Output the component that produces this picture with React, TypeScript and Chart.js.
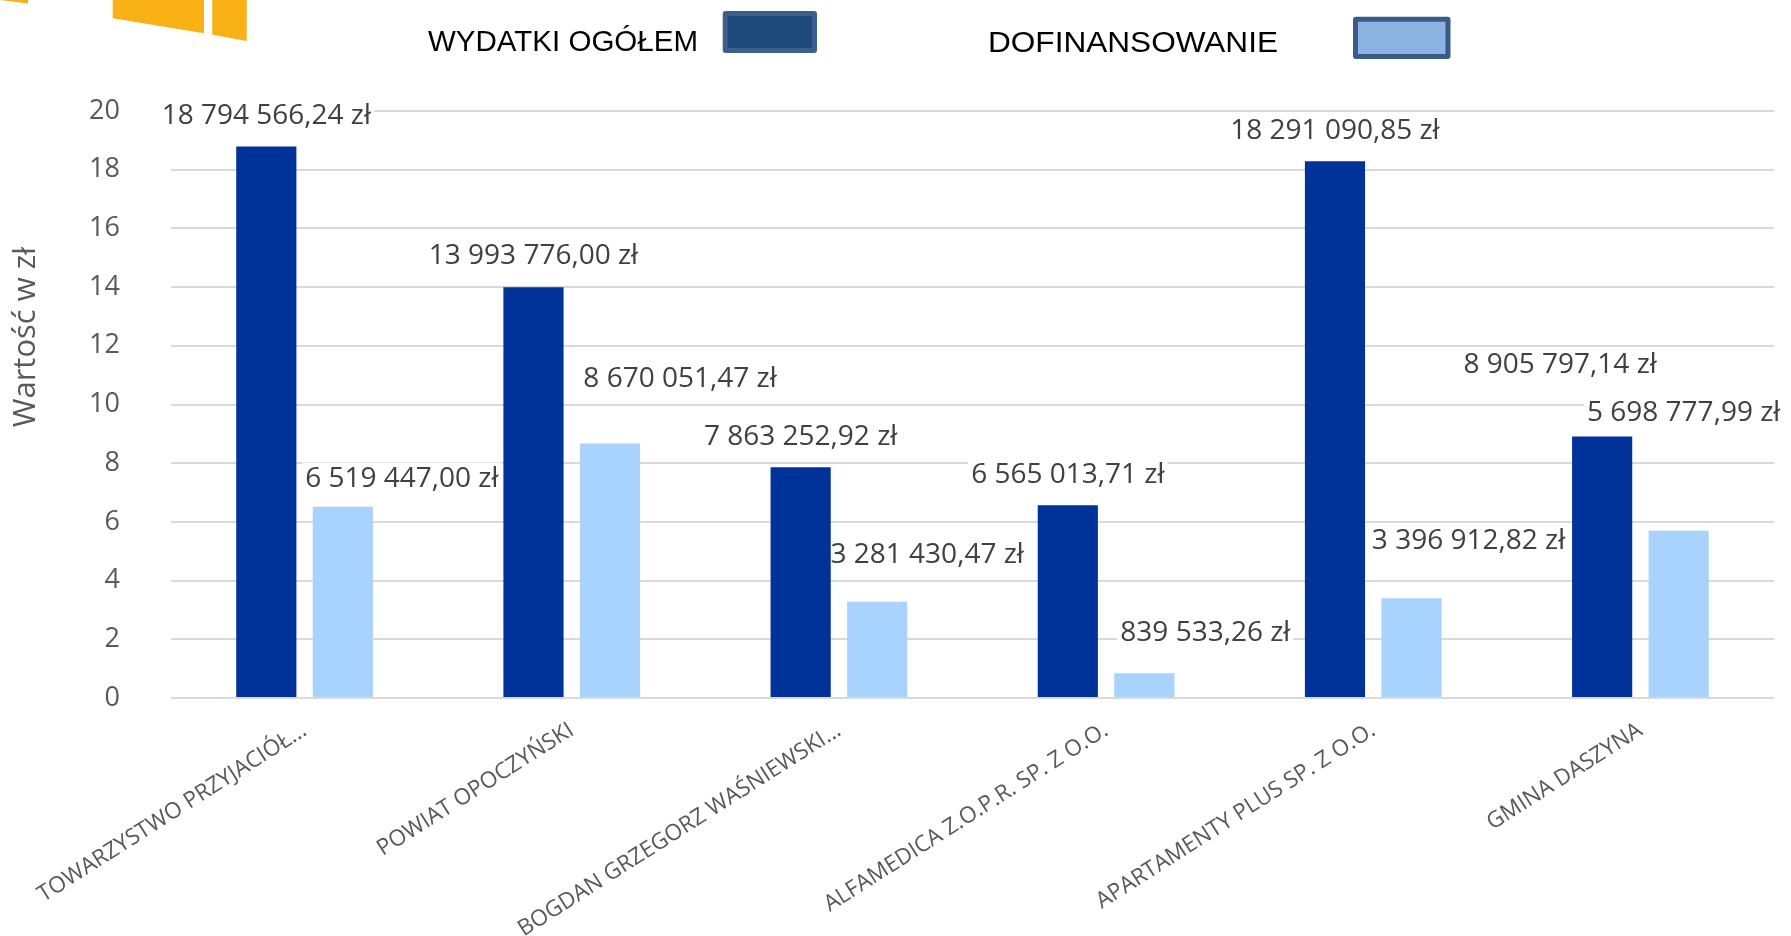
import React, { useEffect, useRef } from "react";
import { Chart, registerables } from "chart.js";

Chart.register(...registerables);

// ---------- data ----------
const categories = [
  "TOWARZYSTWO PRZYJACIÓŁ...",
  "POWIAT OPOCZYŃSKI",
  "BOGDAN GRZEGORZ WAŚNIEWSKI...",
  "ALFAMEDICA Z.O.P.R. SP. Z O.O.",
  "APARTAMENTY PLUS SP. Z O.O.",
  "GMINA DASZYNA",
];
const wydatkiOgolem = [18794566.24, 13993776.0, 7863252.92, 6565013.71, 18291090.85, 8905797.14];
const dofinansowanie = [6519447.0, 8670051.47, 3281430.47, 839533.26, 3396912.82, 5698777.99];
const yTickValues = [0, 2, 4, 6, 8, 10, 12, 14, 16, 18, 20];
const seriesNames = ["WYDATKI OGÓŁEM", "DOFINANSOWANIE"];
const axisTitle = "Wartość w zł";

// ---------- label nudges (px, relative to top centre of each bar) ----------
const nudgeWydatki = [[0, -31], [0, -32], [0, -31], [0, -31], [0, -31], [-42, -73]];
const nudgeDofin = [[59, -29], [70, -66], [50, -48], [61, -41], [57, -58], [5, -119]];

// ---------- styles ----------
const W = 1791;
const H = 936;
const DARK = "#003399";
const LIGHT = "#A9D3FF";
const GREY = "#595959";
const FONT = "'Open Sans', sans-serif";
const LABEL_FONT = `28px ${FONT}`;

function formatPLN(v: number): string {
  const [ip, dec] = v.toFixed(2).split(".");
  const grouped = ip.replace(/\B(?=(\d{3})+(?!\d))/g, " ");
  return `${grouped},${dec} zł`;
}

const logoPlugin = {
  id: "logoShapes",
  beforeDraw(chart: any) {
    const ctx = chart.ctx;
    ctx.save();
    ctx.fillStyle = "#F9B116";
    const polys = [
      [[0, 0], [28, 0], [28, 3.5]],
      [[112.7, 0], [204, 0], [204, 33.3], [112.7, 18.3]],
      [[212.3, 0], [246.7, 0], [246.7, 41], [212.3, 34.7]],
    ];
    for (const p of polys) {
      ctx.beginPath();
      p.forEach(([x, y], i) => (i ? ctx.lineTo(x, y) : ctx.moveTo(x, y)));
      ctx.closePath();
      ctx.fill();
    }
    ctx.restore();
  },
};

const legendPlugin = {
  id: "customLegend",
  afterDraw(chart: any) {
    const ctx = chart.ctx;
    const items = [
      { text: chart.data.datasets[0].label, x: 428, base: 50.7, w: 270, box: [722.7, 11, 94.3, 42], fill: "#1F4A7C", stroke: "#3D5F8E" },
      { text: chart.data.datasets[1].label, x: 988, base: 52.3, w: 290, box: [1353, 16.7, 97.5, 42.3], fill: "#8DB3E2", stroke: "#3A5A88" },
    ];
    ctx.save();
    for (const it of items) {
      ctx.font = "29px 'Liberation Sans', Arial, sans-serif";
      ctx.fillStyle = "#000";
      ctx.textBaseline = "alphabetic";
      ctx.textAlign = "left";
      const m = ctx.measureText(it.text).width;
      ctx.save();
      ctx.translate(it.x, it.base);
      ctx.scale(it.w / m, 1);
      ctx.fillText(it.text, 0, 0);
      ctx.restore();
      const [bx, by, bw, bh] = it.box;
      ctx.fillStyle = it.stroke;
      ctx.beginPath();
      (ctx as any).roundRect(bx, by, bw, bh, 3);
      ctx.fill();
      ctx.fillStyle = it.fill;
      ctx.fillRect(bx + 5, by + 5, bw - 10, bh - 10);
    }
    ctx.restore();
  },
};

function eachLabel(chart: any, cb: (txt: string, x: number, y: number) => void) {
  const raw = [wydatkiOgolem, dofinansowanie];
  const nudges = [nudgeWydatki, nudgeDofin];
  chart.data.datasets.forEach((_: any, di: number) => {
    const meta = chart.getDatasetMeta(di);
    meta.data.forEach((bar: any, i: number) => {
      const [dx, dy] = nudges[di][i];
      cb(formatPLN(raw[di][i]), bar.x + dx, bar.y + dy);
    });
  });
}

const valueLabelPlugin = {
  id: "valueLabels",
  beforeDatasetsDraw(chart: any) {
    // white boxes behind the labels hide the gridlines (drawn under the bars)
    const ctx = chart.ctx;
    ctx.save();
    ctx.font = LABEL_FONT;
    ctx.fillStyle = "#ffffff";
    eachLabel(chart, (txt, x, y) => {
      const tw = ctx.measureText(txt).width;
      ctx.fillRect(x - tw / 2 - 3, y - 15, tw + 6, 30);
    });
    ctx.restore();
  },
  afterDatasetsDraw(chart: any) {
    const ctx = chart.ctx;
    ctx.save();
    ctx.font = LABEL_FONT;
    ctx.textAlign = "center";
    ctx.textBaseline = "middle";
    ctx.fillStyle = "#404040";
    eachLabel(chart, (txt, x, y) => {
      ctx.fillText(txt, x, y + 1);
    });
    ctx.restore();
  },
};

const yTitlePlugin = {
  id: "yTitle",
  afterDraw(chart: any) {
    const ctx = chart.ctx;
    ctx.save();
    ctx.translate(26, 337);
    ctx.rotate(-Math.PI / 2);
    ctx.font = `31px ${FONT}`;
    ctx.fillStyle = GREY;
    ctx.textAlign = "center";
    ctx.textBaseline = "middle";
    ctx.fillText(axisTitle, 0, 0);
    ctx.restore();
  },
};

export default function App() {
  const ref = useRef<HTMLCanvasElement | null>(null);

  useEffect(() => {
    if (!ref.current) return;
    const chart = new Chart(ref.current, {
      type: "bar",
      data: {
        labels: categories,
        datasets: [
          {
            label: seriesNames[0],
            data: wydatkiOgolem.map((v) => v / 1e6),
            backgroundColor: DARK,
            categoryPercentage: 0.573,
            barPercentage: 0.786,
          },
          {
            label: seriesNames[1],
            data: dofinansowanie.map((v) => v / 1e6),
            backgroundColor: LIGHT,
            categoryPercentage: 0.573,
            barPercentage: 0.786,
          },
        ],
      },
      options: {
        responsive: false,
        animation: false,
        devicePixelRatio: 1,
        layout: { padding: { top: 111, right: 17, bottom: 0, left: 0 } },
        plugins: {
          legend: { display: false },
          tooltip: { enabled: false },
          title: { display: false },
        },
        scales: {
          x: {
            grid: { display: false, drawTicks: false },
            border: { display: false },
            ticks: {
              autoSkip: false,
              minRotation: 32.5,
              maxRotation: 32.5,
              padding: 19,
              color: GREY,
              font: { family: FONT, size: 22.5 },
            },
            afterFit(scale: any) {
              scale.height = 238;
              scale.paddingLeft = 0;
              scale.paddingRight = 0;
            },
          },
          y: {
            min: 0,
            max: 20,
            grid: { color: "#D9D9D9", lineWidth: 2, drawTicks: false },
            border: { display: false },
            ticks: {
              padding: 51,
              color: GREY,
              font: { family: FONT, size: 27 },
            },
            afterBuildTicks(scale: any) {
              scale.ticks = yTickValues.map((v) => ({ value: v }));
            },
            afterFit(scale: any) {
              scale.width = 171;
            },
          },
        },
      },
      plugins: [logoPlugin, valueLabelPlugin, legendPlugin, yTitlePlugin],
    });
    return () => chart.destroy();
  }, []);

  return (
    <div style={{ position: "fixed", left: 0, top: 0, width: W, height: H, background: "#fff" }}>
      <canvas ref={ref} width={W} height={H} style={{ display: "block", width: W, height: H }} />
    </div>
  );
}
